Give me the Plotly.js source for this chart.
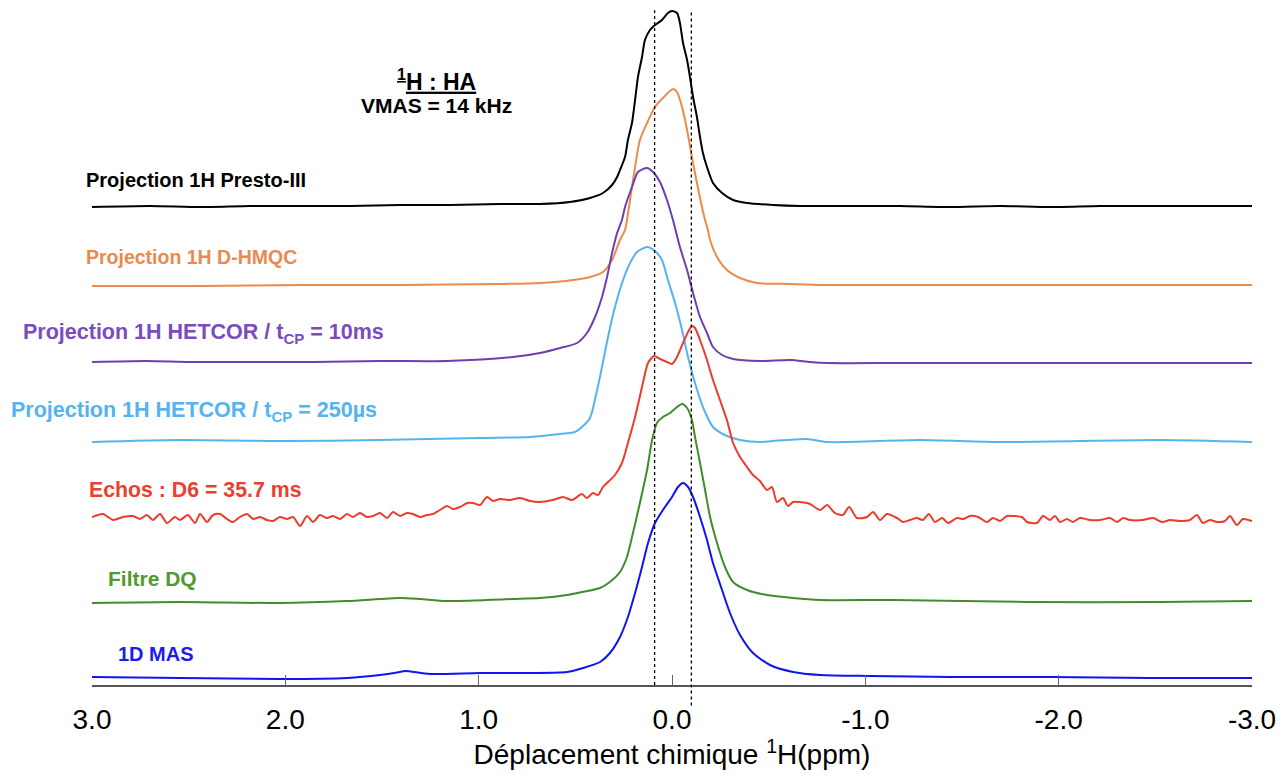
<!DOCTYPE html>
<html>
<head>
<meta charset="utf-8">
<script src="https://cdn.plot.ly/plotly-3.0.1.min.js"></script>
<style>html,body{margin:0;padding:0;background:#fff;}#chart{width:1285px;height:776px;}</style>
</head>
<body>
<div id="chart"></div>
<script>
// Spectrum names
const seriesNames = ["Projection 1H Presto-III","Projection 1H D-HMQC","Projection 1H HETCOR / tCP = 10ms","Projection 1H HETCOR / tCP = 250µs","Echos : D6 = 35.7 ms","Filtre DQ","1D MAS"];
// Vertical stacking offset of each spectrum (intensity units)
const offsets = [479, 400, 323, 245, 168, 83, 8];
// Reference positions of dotted lines (ppm)
const markerPpm = [0.09, -0.10];

// --- Projection 1H Presto-III (black)
const blackX = [3.000,2.700,2.441,2.183,1.924,1.666,1.407,1.148,0.890,0.683,0.528,0.424,0.357,0.310,0.284,0.269,0.243,0.228,0.207,0.191,0.176,0.155,0.140,0.114,0.088,0.052,0.021,0.000,-0.026,-0.041,-0.057,-0.078,-0.093,-0.109,-0.129,-0.145,-0.160,-0.181,-0.212,-0.259,-0.316,-0.388,-0.522,-0.662,-0.921,-1.179,-1.438,-1.697,-1.955,-2.214,-2.472,-2.731,-3.000];
const blackY = [-1,0,-1,0,0,0,1,1,2,2,4,8,13,21,29,36,49,66,83,106,129,149,166,176,181,186,193,195,193,183,163,146,129,109,89,69,53,39,23,13,6,3,1,0,0,0,-1,0,-1,0,0,0,0];

// --- Projection 1H D-HMQC (orange)
const orangeX = [3.000,2.441,1.924,1.407,0.890,0.683,0.512,0.424,0.357,0.310,0.269,0.243,0.233,0.217,0.191,0.166,0.129,0.088,0.047,-0.005,-0.026,-0.052,-0.078,-0.103,-0.129,-0.155,-0.171,-0.186,-0.197,-0.233,-0.284,-0.352,-0.440,-0.610,-0.766,-1.179,-1.697,-2.214,-3.000];
const orangeY = [-1,-1,0,0,1,2,5,8,13,25,45,55,65,85,118,145,162,178,187,196,193,178,155,128,102,78,65,55,45,28,15,7,2,1,0,0,0,0,0];

// --- Projection 1H HETCOR / tCP = 10ms (purple)
const purpleX = [3.000,2.716,2.493,2.198,1.857,1.510,1.164,0.822,0.683,0.579,0.491,0.440,0.398,0.362,0.336,0.310,0.284,0.259,0.243,0.207,0.176,0.129,0.098,0.062,0.026,-0.005,-0.041,-0.078,-0.109,-0.145,-0.181,-0.212,-0.259,-0.316,-0.455,-0.610,-0.714,-0.802,-1.179,-1.697,-2.214,-3.000];
const purpleY = [0,1,0,0,0,1,1,5,9,14,19,29,45,65,85,109,129,142,155,175,190,194,190,180,162,142,115,92,69,45,29,15,7,3,1,2,0,-1,-1,-1,-1,-1];

// --- Projection 1H HETCOR / tCP = 250µs (light blue)
const lblueX = [3.000,2.545,2.028,1.510,0.993,0.734,0.579,0.502,0.460,0.424,0.393,0.362,0.331,0.295,0.253,0.217,0.181,0.129,0.088,0.052,0.021,-0.016,-0.052,-0.083,-0.119,-0.160,-0.212,-0.284,-0.352,-0.455,-0.522,-0.698,-0.802,-1.283,-1.697,-2.524,-3.000];
const lblueY = [-2,0,-1,0,2,3,6,8,14,22,45,73,103,133,160,177,188,193,189,180,160,137,110,83,57,33,13,4,0,-2,-1,1,-2,0,-2,0,-2];

// --- Echos : D6 = 35.7 ms (red)
const redX = [3.000,2.943,2.891,2.840,2.788,2.752,2.716,2.685,2.648,2.612,2.571,2.545,2.504,2.467,2.441,2.405,2.374,2.338,2.302,2.271,2.235,2.198,2.167,2.131,2.095,2.064,2.028,1.991,1.960,1.924,1.888,1.857,1.821,1.785,1.753,1.717,1.681,1.650,1.614,1.578,1.547,1.510,1.474,1.443,1.407,1.371,1.340,1.303,1.267,1.236,1.200,1.164,1.133,1.097,1.060,1.029,0.993,0.957,0.926,0.890,0.838,0.786,0.734,0.683,0.616,0.564,0.517,0.466,0.440,0.409,0.383,0.357,0.331,0.295,0.259,0.228,0.191,0.155,0.124,0.093,0.062,0.026,0.000,-0.026,-0.057,-0.083,-0.103,-0.119,-0.145,-0.181,-0.212,-0.248,-0.284,-0.316,-0.352,-0.388,-0.419,-0.455,-0.491,-0.517,-0.543,-0.574,-0.600,-0.626,-0.662,-0.698,-0.714,-0.766,-0.802,-0.843,-0.884,-0.916,-0.957,-1.009,-1.040,-1.076,-1.112,-1.164,-1.195,-1.231,-1.267,-1.298,-1.329,-1.360,-1.397,-1.428,-1.474,-1.505,-1.541,-1.583,-1.629,-1.660,-1.697,-1.733,-1.764,-1.810,-1.836,-1.888,-1.919,-1.955,-1.981,-2.007,-2.043,-2.074,-2.110,-2.162,-2.214,-2.266,-2.302,-2.333,-2.369,-2.436,-2.488,-2.535,-2.576,-2.628,-2.679,-2.715,-2.746,-2.783,-2.819,-2.860,-2.886,-2.922,-2.953,-3.000];
const redY = [0,3,-3,0,1,-2,2,-3,3,-6,0,-3,2,-6,3,-5,2,3,-2,-5,0,3,-2,0,-3,-4,0,-2,0,-9,1,-5,2,-1,1,-2,3,0,4,0,1,4,-1,5,1,4,3,0,2,3,7,11,8,10,14,14,12,20,16,18,17,19,16,15,17,20,17,23,19,24,22,30,35,42,54,74,100,130,154,161,158,155,153,160,174,185,191,189,177,157,137,117,97,74,60,50,42,36,27,30,15,19,11,15,15,14,13,7,12,4,2,10,-1,0,5,-3,3,-1,-5,-3,-1,-3,3,-5,-1,-6,-1,-2,1,0,-5,-1,-4,1,1,0,-5,-6,1,-3,1,-5,-2,-5,-1,-3,-3,-1,-5,-1,-3,-3,-1,-5,-3,-4,-3,2,-6,-3,-5,-4,1,-8,-2,-4];

// --- Filtre DQ (green)
const greenX = [3.000,2.545,2.028,1.681,1.407,1.303,1.164,0.822,0.683,0.543,0.466,0.372,0.321,0.269,0.233,0.202,0.166,0.129,0.103,0.078,0.047,0.010,-0.026,-0.052,-0.078,-0.103,-0.119,-0.145,-0.171,-0.197,-0.233,-0.274,-0.316,-0.388,-0.491,-0.626,-0.766,-1.143,-1.836,-2.524,-3.000];
const greenY = [-1,0,-1,1,4,3,1,3,4,7,10,14,20,30,45,69,99,132,162,179,185,189,195,198,194,182,165,139,112,85,59,35,20,12,7,4,2,2,0,0,1];

// --- 1D MAS (blue)
const blueX = [3.000,2.545,2.028,1.681,1.510,1.407,1.381,1.252,0.993,0.734,0.543,0.460,0.372,0.321,0.269,0.228,0.191,0.155,0.124,0.088,0.047,0.000,-0.031,-0.057,-0.083,-0.109,-0.145,-0.181,-0.212,-0.259,-0.300,-0.352,-0.419,-0.507,-0.626,-0.766,-1.024,-1.438,-1.955,-2.472,-3.000];
const blueY = [0,-1,-2,-1,2,5,6,3,4,4,5,9,15,24,40,60,84,110,134,154,167,180,190,194,190,180,160,137,114,87,64,42,24,12,5,2,1,0,0,-1,-1];

const xs = [blackX, orangeX, purpleX, lblueX, redX, greenX, blueX];
const ys = [blackY, orangeY, purpleY, lblueY, redY, greenY, blueY];
const colors = ["#000000", "#EE8B4B", "#6E3FAE", "#55B3F0", "#EE3B2B", "#418C2C", "#1014F0"];

const traces = xs.map((x, i) => ({
  type: "scatter", mode: "lines", name: seriesNames[i],
  x: x, y: ys[i].map(v => v + offsets[i]),
  line: {color: colors[i], width: 2, shape: "spline", smoothing: 0.7},
  hoverinfo: "x+y", cliponaxis: false, showlegend: false
}));

const tickVals = [3, 2, 1, 0, -1, -2, -3];
const tickText = ["3.0", "2.0", "1.0", "0.0", "-1.0", "-2.0", "-3.0"];

function px2paperX(px) { return (px - 92) / 1160; }
function px2paperY(py) { return (685 - py) / 685; }

const labelFamily = "Liberation Sans, Arial, sans-serif";
const labels = [
  {text: "<b>Projection 1H Presto-III</b>", x: 84, y: 180, c: colors[0], s: 20},
  {text: "<b>Projection 1H D-HMQC</b>", x: 84, y: 257, c: "#E98A4F", s: 19.5},
  {text: "<b>Projection 1H HETCOR / t<sub>CP</sub> = 10ms</b>", x: 21, y: 333, c: "#7B4BC0", s: 21.5},
  {text: "<b>Projection 1H HETCOR / t<sub>CP</sub> = 250µs</b>", x: 9, y: 411, c: colors[3], s: 21.5},
  {text: "<b>Echos : D6 = 35.7 ms</b>", x: 87, y: 490, c: "#E8412F", s: 21.3},
  {text: "<b>Filtre DQ</b>", x: 106, y: 578, c: "#4F9A31", s: 21},
  {text: "<b>1D MAS</b>", x: 116, y: 654, c: "#1B1BEF", s: 20}
];
const annotations = labels.map(l => ({
  xref: "paper", yref: "paper", x: px2paperX(l.x), y: px2paperY(l.y),
  xanchor: "left", yanchor: "middle", showarrow: false, text: l.text,
  font: {family: labelFamily, size: l.s, color: l.c}
}));
annotations.push({xref: "paper", yref: "paper", x: px2paperX(436), y: px2paperY(80), xanchor: "center", yanchor: "middle", showarrow: false,
  text: "<b><u><sup>1</sup>H : HA</u></b>", font: {family: labelFamily, size: 23, color: "#000"}});
annotations.push({xref: "paper", yref: "paper", x: px2paperX(436), y: px2paperY(106), xanchor: "center", yanchor: "middle", showarrow: false,
  text: "<b>VMAS = 14 kHz</b>", font: {family: labelFamily, size: 21, color: "#000"}});

const shapes = [
  {type: "line", xref: "x", yref: "paper", x0: markerPpm[0], x1: markerPpm[0], y0: 0, y1: 0.985, line: {color: "#000", width: 1.3, dash: "dot"}},
  {type: "line", xref: "x", yref: "paper", x0: markerPpm[1], x1: markerPpm[1], y0: -0.03, y1: 0.985, line: {color: "#000", width: 1.3, dash: "dot"}}
];

const layout = {
  width: 1285, height: 776,
  margin: {l: 92, r: 33, t: 0, b: 91},
  paper_bgcolor: "#fff", plot_bgcolor: "#fff",
  showlegend: false,
  xaxis: {
    range: [3, -3], tickvals: tickVals, ticktext: tickText,
    ticks: "inside", ticklen: 10, tickwidth: 1, tickcolor: "#666",
    showline: true, linecolor: "#555", linewidth: 2,
    showgrid: false, zeroline: false,
    ticklabelstandoff: 8,
    tickfont: {family: "Liberation Sans Narrow, Liberation Sans, Arial, sans-serif", size: 28, color: "#000"},
    title: {text: "Déplacement chimique <sup>1</sup>H(ppm)", standoff: 10,
      font: {family: "Liberation Sans Narrow, Liberation Sans, Arial, sans-serif", size: 28, color: "#000"}},
    automargin: false
  },
  yaxis: {range: [0, 685], visible: false, showgrid: false, zeroline: false, fixedrange: true},
  annotations: annotations,
  shapes: shapes
};

Plotly.newPlot("chart", traces, layout, {displayModeBar: false, staticPlot: true});
</script>
</body>
</html>
